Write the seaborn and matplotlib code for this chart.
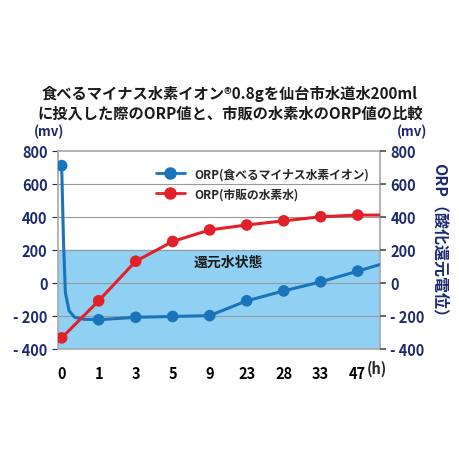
import matplotlib
matplotlib.use("Agg")
import matplotlib.pyplot as plt
import seaborn as sns
import pandas as pd
from matplotlib.lines import Line2D

hours = ["0", "1", "3", "5", "9", "23", "28", "33", "47"]
blue_x = [0, 0.05, 0.1, 0.2, 0.35, 0.6, 1, 2, 3, 4, 5, 6, 7, 8, 8.6]
blue_y = [710, 250, -60, -170, -210, -222, -225, -210, -205, -200, -110, -50, 5, 70, 110]
blue_marked = [True, False, False, False, False, False, True, True, True, True, True, True, True, True, False]
red_x = [0, 1, 2, 3, 4, 5, 6, 7, 8, 8.6]
red_y = [-335, -110, 130, 250, 320, 350, 375, 400, 410, 410]
red_marked = [True] * 9 + [False]
yticks = [800, 600, 400, 200, 0, -200, -400]
ylabels = ["800", "600", "400", "200", "0", "- 200", "- 400"]

sns.set_theme(style="white")
plt.rcParams['font.family'] = ['Noto Sans CJK JP', 'DejaVu Sans']
navy = "#1d2a6e"
blue = "#1a74bb"
red = "#e2202a"

fig = plt.figure(figsize=(4.6, 4.6), dpi=100)
ax = fig.add_axes([0.126, 0.24, 0.7, 0.43])
ax.axhspan(-400, 200, color="#8fd0f3", zorder=0)
for y in [600, 400, 200, 0, -200]:
    ax.axhline(y, color="#999999", lw=0.8, zorder=1)

bdf = pd.DataFrame({"x": blue_x, "y": blue_y})
rdf = pd.DataFrame({"x": red_x, "y": red_y})
sns.lineplot(data=bdf, x="x", y="y", ax=ax, color=blue, lw=2.2, zorder=3)
sns.lineplot(data=rdf, x="x", y="y", ax=ax, color=red, lw=2.2, zorder=3)
sns.scatterplot(data=bdf[blue_marked], x="x", y="y", ax=ax, color=blue, s=70,
                edgecolor="none", zorder=4, legend=False)
sns.scatterplot(data=rdf[red_marked], x="x", y="y", ax=ax, color=red, s=70,
                edgecolor="none", zorder=4, legend=False)
handles = [Line2D([], [], color=blue, marker="o", ms=8, lw=2),
           Line2D([], [], color=red, marker="o", ms=8, lw=2)]
ax.legend(handles, ["ORP(食べるマイナス水素イオン)", "ORP(市販の水素水)"], loc="upper right",
          bbox_to_anchor=(1.0, 0.97), frameon=False, handlelength=2.5, labelspacing=0.6,
          prop={"weight": "bold", "size": 8.5})

ax.set_xlim(-0.1, 8.6)
ax.set_ylim(-400, 800)
ax.set_xticks(range(len(hours)))
ax.set_xticklabels(hours)
ax.set_yticks(yticks)
ax.set_yticklabels(ylabels)
ax.set_xlabel("")
ax.set_ylabel("")
ax.tick_params(axis="y", colors=navy, labelsize=10.5, length=4, width=0.8)
ax.tick_params(axis="x", colors="#555555", labelcolor="black", labelsize=10.5, pad=6)
for t in ax.get_xticklabels() + ax.get_yticklabels():
    t.set_fontweight("bold")
for s in ["top", "right", "bottom", "left"]:
    ax.spines[s].set_color("#aaaaaa")

ax2 = ax.twinx()
ax2.set_ylim(-400, 800)
ax2.set_yticks(yticks)
ax2.set_yticklabels(ylabels)
ax2.tick_params(axis="y", colors="#555555", labelcolor=navy, labelsize=10.5, length=4)
for t in ax2.get_yticklabels():
    t.set_fontweight("bold")
for s in ax2.spines.values():
    s.set_visible(False)

ax.text(4.5, 100, "還元水状態", fontsize=10, fontweight="bold", color="#1a1a1a", ha="center")
ax.text(8.25, -470, "(h)", fontsize=10.5, fontweight="bold", va="top", ha="left")
fig.text(0.107, 0.705, "(mv)", color=navy, fontsize=9.5, fontweight="bold", ha="center")
fig.text(0.895, 0.705, "(mv)", color=navy, fontsize=9.5, fontweight="bold", ha="center")
fig.text(0.955, 0.47, "ORP（酸化還元電位）", color=navy, fontsize=11.5, fontweight="bold",
         rotation=270, ha="center", va="center")
fig.text(0.5, 0.775, "食べるマイナス水素イオン®0.8gを仙台市水道水200ml\nに投入した際のORP値と、市販の水素水のORP値の比較",
         ha="center", va="center", fontsize=11, fontweight="bold", color="#1a1a1a", linespacing=1.3)
fig.savefig("out.png", dpi=100)
